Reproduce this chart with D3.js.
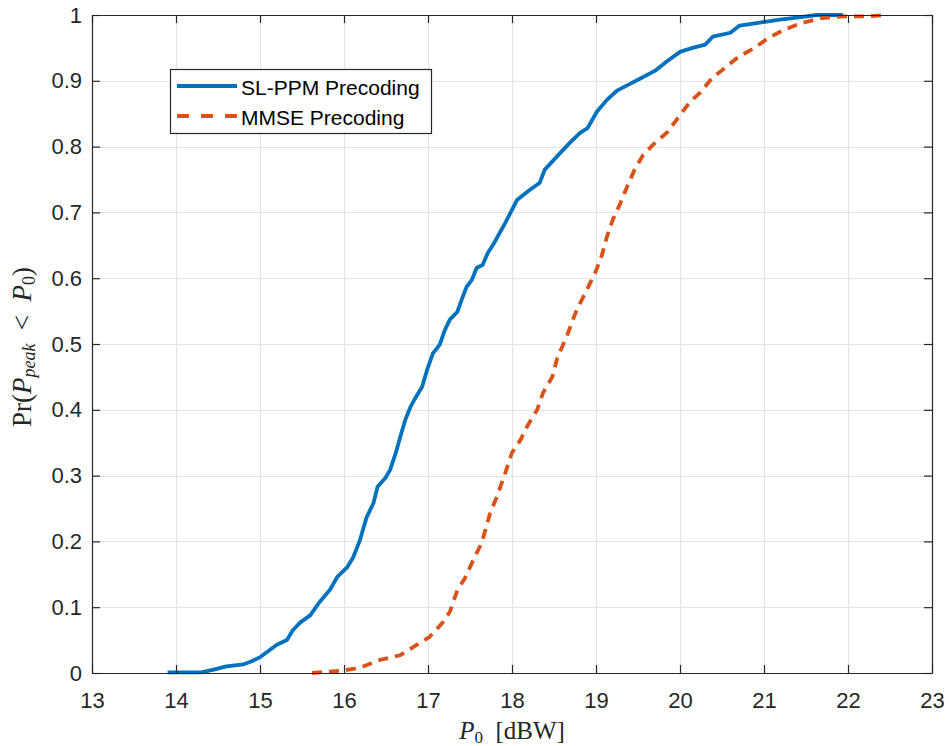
<!DOCTYPE html>
<html>
<head>
<meta charset="utf-8">
<script src="https://cdn.jsdelivr.net/npm/d3@7"></script>
<style>
  html, body { margin: 0; padding: 0; background: #fff; }
  svg { display: block; }
</style>
</head>
<body>
<svg id="chart" width="949" height="746"></svg>
<script>
// Empirical CDF of peak power, SL-PPM precoding
const slppmP0 = [13.9, 14.3, 14.45, 14.6, 14.8, 14.9, 15.0, 15.2, 15.32, 15.39, 15.48, 15.6, 15.71, 15.83, 15.92,
  16.04, 16.11, 16.19, 16.27, 16.35, 16.40, 16.49, 16.55, 16.62, 16.67, 16.73, 16.79, 16.85, 16.93, 16.99,
  17.06, 17.14, 17.20, 17.26, 17.35, 17.40, 17.46, 17.52, 17.58, 17.65, 17.71, 17.78, 17.92, 18.06, 18.21,
  18.33, 18.39, 18.55, 18.69, 18.81, 18.90, 19.01, 19.13, 19.25, 19.4, 19.55, 19.7, 19.85, 20.0, 20.15,
  20.30, 20.39, 20.60, 20.71, 20.99, 21.19, 21.39, 21.63, 21.94];
const slppmCdf = [0.001, 0.001, 0.005, 0.01, 0.013, 0.018, 0.024, 0.043, 0.050, 0.065, 0.077, 0.088, 0.108, 0.126, 0.146,
  0.161, 0.176, 0.202, 0.237, 0.258, 0.283, 0.296, 0.309, 0.336, 0.359, 0.385, 0.404, 0.418, 0.435, 0.461,
  0.486, 0.499, 0.521, 0.537, 0.549, 0.567, 0.587, 0.597, 0.616, 0.620, 0.638, 0.652, 0.684, 0.719, 0.734,
  0.745, 0.765, 0.787, 0.806, 0.821, 0.828, 0.853, 0.871, 0.885, 0.895, 0.905, 0.915, 0.930, 0.944, 0.950,
  0.955, 0.967, 0.973, 0.984, 0.989, 0.993, 0.996, 1.0, 1.0];

// Empirical CDF of peak power, MMSE precoding
const mmseP0 = [15.62, 16.01, 16.19, 16.43, 16.67, 16.87, 17.02, 17.17, 17.26, 17.35, 17.44, 17.54, 17.64, 17.74,
  17.82, 17.92, 18.0, 18.10, 18.19, 18.30, 18.37, 18.48, 18.54, 18.65, 18.77, 18.89, 18.99, 19.07, 19.13,
  19.20, 19.29, 19.37, 19.46, 19.56, 19.68, 19.85, 20.0, 20.12, 20.24, 20.38, 20.54, 20.69, 20.89, 21.05,
  21.23, 21.43, 21.67, 21.94, 22.23, 22.46];
const mmseCdf = [0.0, 0.004, 0.008, 0.02, 0.027, 0.043, 0.055, 0.076, 0.093, 0.126, 0.144, 0.172, 0.198, 0.243,
  0.268, 0.304, 0.335, 0.354, 0.377, 0.400, 0.426, 0.45, 0.479, 0.511, 0.552, 0.582, 0.608, 0.635, 0.663,
  0.689, 0.714, 0.739, 0.765, 0.787, 0.803, 0.822, 0.848, 0.868, 0.882, 0.904, 0.920, 0.936, 0.950, 0.965,
  0.977, 0.987, 0.995, 0.998, 0.998, 1.0];

const xTicks = [13, 14, 15, 16, 17, 18, 19, 20, 21, 22, 23];
const yTicks = [0, 0.1, 0.2, 0.3, 0.4, 0.5, 0.6, 0.7, 0.8, 0.9, 1];
const seriesNames = ["SL-PPM Precoding", "MMSE Precoding"];

(function () {
const pLeft = 92, pTop = 15, pRight = 932, pBottom = 673;
const axisColor = "#262626";
const font = "'Liberation Sans', Arial, Helvetica, sans-serif";
const serif = "'Liberation Serif', 'Times New Roman', serif";

const svg = d3.select("#chart");
const x = d3.scaleLinear().domain([13, 23]).range([pLeft, pRight]);
const y = d3.scaleLinear().domain([0, 1]).range([pBottom, pTop]);

// grid
const grid = svg.append("g").attr("stroke", "#e3e3e3").attr("stroke-width", 1);
grid.selectAll(".gx").data(xTicks).join("line")
  .attr("x1", d => Math.round(x(d)) + 0.5).attr("x2", d => Math.round(x(d)) + 0.5)
  .attr("y1", pTop).attr("y2", pBottom);
grid.selectAll(".gy").data(yTicks).join("line")
  .attr("y1", d => Math.round(y(d)) + 0.5).attr("y2", d => Math.round(y(d)) + 0.5)
  .attr("x1", pLeft).attr("x2", pRight);

// series
const series = [
  { xs: slppmP0, ys: slppmCdf, color: "#0072BD", dash: null },
  { xs: mmseP0, ys: mmseCdf, color: "#D95319", dash: "10,7" }
];
const line = d3.line().x(d => x(d[0])).y(d => y(d[1]));
series.forEach(s => {
  svg.append("path")
    .datum(d3.zip(s.xs, s.ys))
    .attr("d", line)
    .attr("fill", "none")
    .attr("stroke", s.color)
    .attr("stroke-width", 3.8)
    .attr("stroke-linejoin", "round")
    .attr("stroke-dasharray", s.dash);
});

// axes (ticks pointing inward on all four sides)
function styleAxis(g, showLabels) {
  g.select(".domain").attr("stroke", axisColor).attr("stroke-width", 1.2);
  g.selectAll(".tick line").attr("stroke", axisColor).attr("stroke-width", 1.2);
  g.selectAll(".tick text").attr("fill", axisColor).attr("font-family", font).attr("font-size", 22);
  if (!showLabels) g.selectAll(".tick text").remove();
}
svg.append("g").attr("transform", `translate(0,${pBottom})`)
  .call(d3.axisBottom(x).tickValues(xTicks).tickSize(-8).tickSizeOuter(0).tickPadding(19).tickFormat(d3.format("d")))
  .call(g => styleAxis(g, true));
svg.append("g").attr("transform", `translate(0,${pTop})`)
  .call(d3.axisTop(x).tickValues(xTicks).tickSize(-8).tickSizeOuter(0))
  .call(g => styleAxis(g, false));
svg.append("g").attr("transform", `translate(${pLeft},0)`)
  .call(d3.axisLeft(y).tickValues(yTicks).tickSize(-8).tickSizeOuter(0).tickPadding(10).tickFormat(d => d === 0 || d === 1 ? d3.format("d")(d) : d3.format(".1f")(d)))
  .call(g => styleAxis(g, true));
svg.append("g").attr("transform", `translate(${pRight},0)`)
  .call(d3.axisRight(y).tickValues(yTicks).tickSize(-8).tickSizeOuter(0))
  .call(g => styleAxis(g, false));

// x label: P_0 [dBW]
const xl = svg.append("text")
  .attr("x", (pLeft + pRight) / 2).attr("y", 739)
  .attr("text-anchor", "middle")
  .attr("font-family", serif).attr("font-size", 25).attr("fill", axisColor);
xl.append("tspan").attr("font-style", "italic").text("P");
xl.append("tspan").attr("font-size", 17).attr("dy", 4).text("0");
xl.append("tspan").attr("dy", -4).text("\u2002[dBW]");

// y label: Pr(P_peak < P_0)
const yl = svg.append("text")
  .attr("transform", `translate(31,${(pTop + pBottom) / 2 + 3}) rotate(-90)`)
  .attr("text-anchor", "middle")
  .attr("font-family", serif).attr("font-size", 27).attr("fill", axisColor);
yl.append("tspan").text("Pr(");
yl.append("tspan").attr("font-style", "italic").text("P");
yl.append("tspan").attr("font-style", "italic").attr("font-size", 18).attr("dy", 4).text("peak");
yl.append("tspan").attr("dy", -4).text("\u2002<\u2002");
yl.append("tspan").attr("font-style", "italic").text("P");
yl.append("tspan").attr("font-size", 18).attr("dy", 4).text("0");
yl.append("tspan").attr("dy", -4).text(")");

// legend
const lg = svg.append("g");
lg.append("rect").attr("x", 170.5).attr("y", 69.5).attr("width", 261).attr("height", 64)
  .attr("fill", "#fff").attr("stroke", axisColor).attr("stroke-width", 1.2);
const legendY = [86, 116];
series.forEach((s, i) => {
  lg.append("line").attr("x1", 177).attr("x2", 237).attr("y1", legendY[i]).attr("y2", legendY[i])
    .attr("stroke", s.color).attr("stroke-width", 3.8).attr("stroke-dasharray", s.dash ? "12,12" : null);
  lg.append("text").attr("x", 241).attr("y", legendY[i] + 9)
    .attr("font-family", font).attr("font-size", 21).attr("fill", "#000")
    .text(seriesNames[i]);
});
})();
</script>
</body>
</html>
